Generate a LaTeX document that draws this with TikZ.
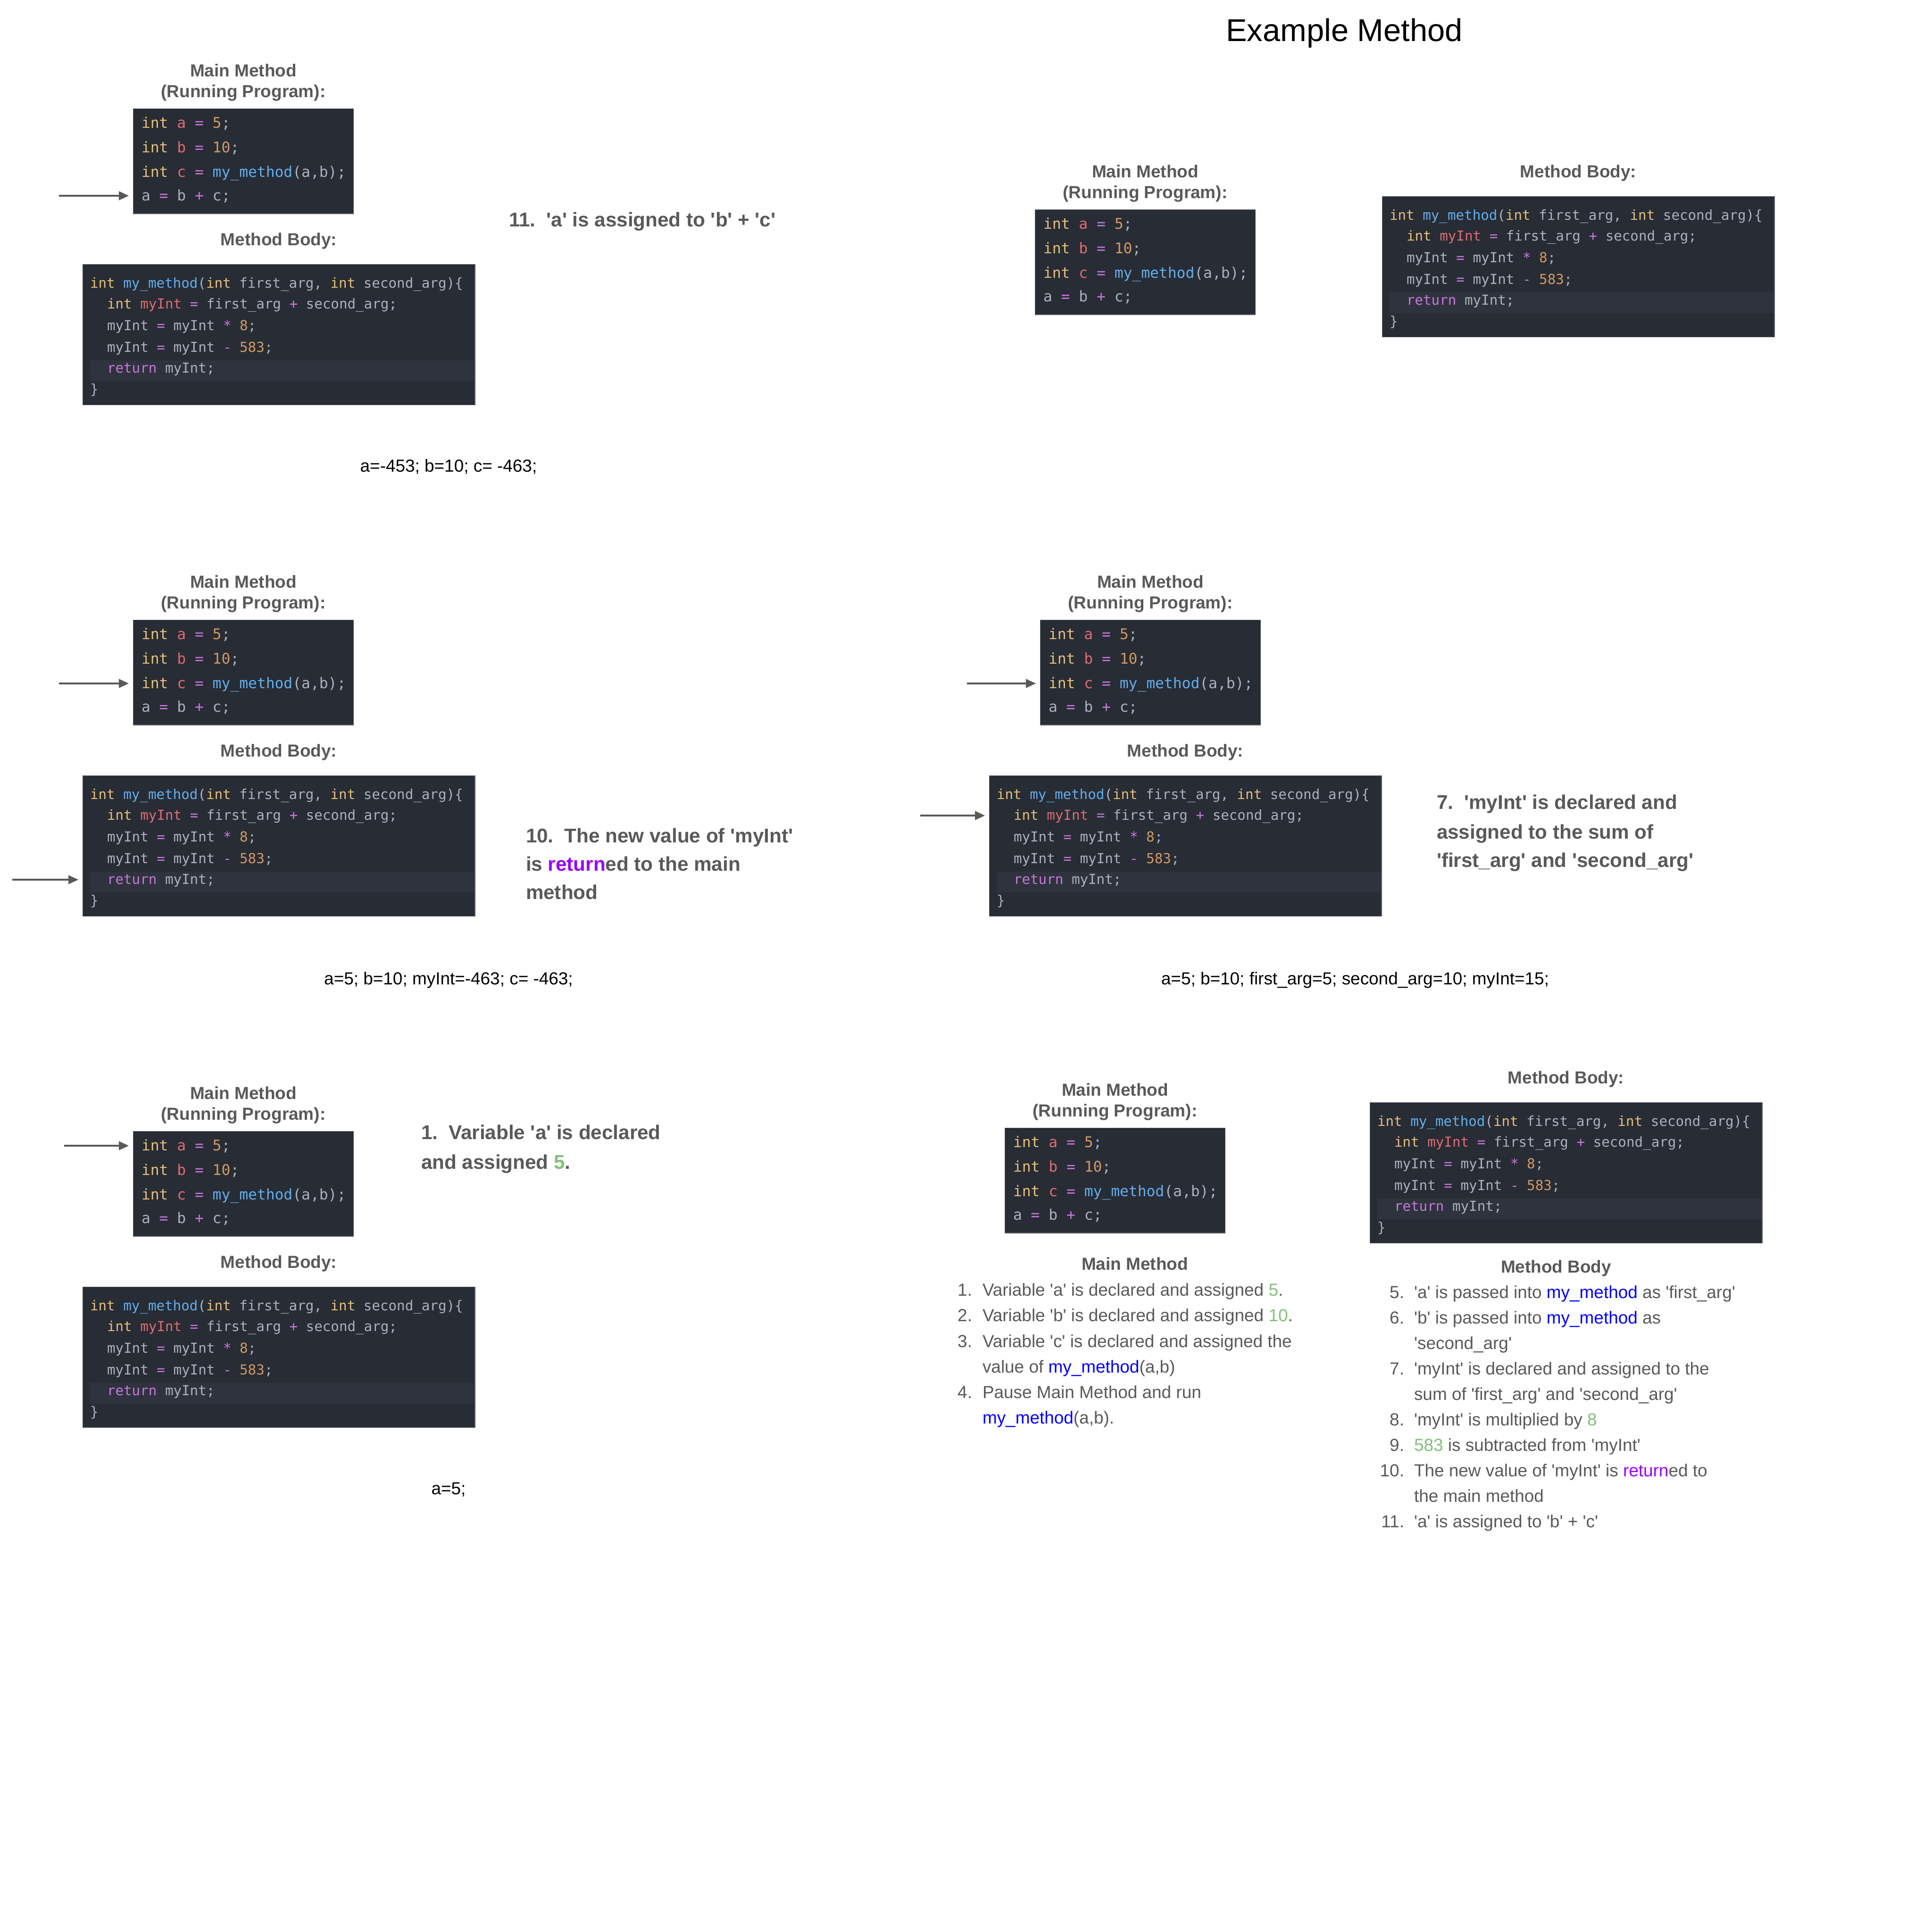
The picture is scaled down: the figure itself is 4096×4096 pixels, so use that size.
\documentclass[tikz,border=0pt]{standalone}
\usepackage{fontspec}
\usetikzlibrary{arrows.meta}
\newfontfamily\arialf{Liberation Sans}
\newfontfamily\codef{DejaVu Sans Mono}

% code colours (dark editor theme)
\definecolor{codebg}{HTML}{282C34}
\definecolor{codeedge}{HTML}{5A5E66}
\definecolor{hlbg}{HTML}{2F333D}
\definecolor{cplain}{HTML}{ABB2BF}
\definecolor{ckw}{HTML}{E5C07B}
\definecolor{cvar}{HTML}{E06C75}
\definecolor{cop}{HTML}{C678DD}
\definecolor{cnum}{HTML}{D19A66}
\definecolor{cfn}{HTML}{61AFEF}
% text colours
\definecolor{txtgray}{HTML}{595959}
\definecolor{lgreen}{HTML}{82C07A}
\definecolor{lblue}{HTML}{0000FF}
\definecolor{lpurple}{HTML}{9900FF}

\newcommand\cK[1]{\textcolor{ckw}{#1}}
\newcommand\cV[1]{\textcolor{cvar}{#1}}
\newcommand\cO[1]{\textcolor{cop}{#1}}
\newcommand\cN[1]{\textcolor{cnum}{#1}}
\newcommand\cF[1]{\textcolor{cfn}{#1}}
\newcommand\cR[1]{\textcolor{cop}{#1}}
\newcommand\gN[1]{\textcolor{lgreen}{#1}}
\newcommand\bF[1]{\textcolor{lblue}{#1}}
\newcommand\pR[1]{\textcolor{lpurple}{#1}}

\tikzset{
  txt/.style={inner sep=0pt, outer sep=0pt},
  hdr/.style={txt, text=txtgray, font=\arialf\bfseries\fontsize{10.5pt}{12.6pt}\selectfont},
  titlefont/.style={txt, text=black, font=\arialf\fontsize{19pt}{22pt}\selectfont},
  steplbl/.style={txt, anchor=base west, text=txtgray, font=\arialf\bfseries\fontsize{12pt}{17pt}\selectfont},
  vals/.style={txt, anchor=base, text=black, font=\arialf\fontsize{10.5pt}{12.6pt}\selectfont},
  listtxt/.style={txt, anchor=base west, text=txtgray, font=\arialf\fontsize{10.5pt}{12.6pt}\selectfont},
  listnum/.style={txt, anchor=base east, text=txtgray, font=\arialf\fontsize{10.5pt}{12.6pt}\selectfont},
  codebox/.style={fill=codebg, draw=codeedge, line width=0.4pt, inner sep=0pt, anchor=north west},
  mainln/.style={txt, anchor=base west, text=cplain, font=\codef\fontsize{8.9pt}{10pt}\selectfont},
  bodyln/.style={txt, anchor=base west, text=cplain, font=\codef\fontsize{8.3pt}{10pt}\selectfont},
  ptr/.style={draw=txtgray, line width=1.1pt, shorten >=2.5pt,
    -{Triangle[length=6pt,width=5.2pt]}},
}

% main method block: #1 prefix, (#2,#3) top-left corner of the code box
\newcommand\codemain[3]{%
  \node[hdr, anchor=base] (#1mh1) at ({#2+234},{#3-68}) {Main Method};
  \node[hdr, anchor=base] (#1mh2) at ({#2+234},{#3-24}) {(Running Program):};
  \node[codebox, minimum width=132.8pt, minimum height=63.2pt] (#1mbox) at (#2,#3) {};
  \node[mainln] (#1m1) at ({#2+18},{#3+41}) {\cK{int} \cV{a} \cO{=} \cN{5};};
  \node[mainln] (#1m2) at ({#2+18},{#3+93}) {\cK{int} \cV{b} \cO{=} \cN{10};};
  \node[mainln] (#1m3) at ({#2+18},{#3+145}) {\cK{int} \cV{c} \cO{=} \cF{my\_method}(a,b);};
  \node[mainln] (#1m4) at ({#2+18},{#3+195}) {a \cO{=} b \cO{+} c;};
}

% method body block: #1 prefix, (#2,#3) top-left corner of the code box
\newcommand\codebody[3]{%
  \node[hdr, anchor=base] (#1bh) at ({#2+416},{#3-40}) {Method Body:};
  \node[codebox, minimum width=236.4pt, minimum height=84.6pt] (#1bbox) at (#2,#3) {};
  \fill[hlbg] ({#2+16},{#3+204}) rectangle ({#2+831},{#3+248});
  \node[bodyln] (#1b1) at ({#2+16},{#3+50}) {\cK{int} \cF{my\_method}(\cK{int} first\_arg, \cK{int} second\_arg)\{};
  \node[bodyln] (#1b2) at ({#2+52},{#3+94}) {\cK{int} \cV{myInt} \cO{=} first\_arg \cO{+} second\_arg;};
  \node[bodyln] (#1b3) at ({#2+52},{#3+140}) {myInt \cO{=} myInt \cO{*} \cN{8};};
  \node[bodyln] (#1b4) at ({#2+52},{#3+186}) {myInt \cO{=} myInt \cO{-} \cN{583};};
  \node[bodyln] (#1b5) at ({#2+52},{#3+230}) {\cR{return} myInt;};
  \node[bodyln] (#1b6) at ({#2+16},{#3+275}) {\}};
}

\begin{document}
\begin{tikzpicture}[x=0.01cm, y=-0.01cm]
\fill[white] (0,0) rectangle (4096,4096);
\useasboundingbox (0,0) rectangle (4096,4096);

% title
\node[titlefont, anchor=base] (title) at (2850,87) {Example Method};

% ---- step 11 (top left)
\codemain{p1}{282}{230}
\codebody{p1}{175}{560}
\coordinate (p1a) at (125,415);
\draw[ptr] (p1a) -- (p1a -| p1mbox.west);
\node[steplbl] (p1s) at (1079,480) {11.\hspace{0.55em}'a' is assigned to 'b' + 'c'};
\node[vals] (p1v) at (951,1000) {a=-453; b=10; c= -463;};

% ---- overview (top right)
\codemain{p2}{2194}{444}
\codebody{p2}{2930}{416}

% ---- step 10 (middle left)
\codemain{p3}{282}{1314}
\codebody{p3}{175}{1644}
\coordinate (p3a) at (125,1449);
\draw[ptr] (p3a) -- (p3a -| p3mbox.west);
\coordinate (p3c) at (26,1865);
\draw[ptr] (p3c) -- (p3c -| p3bbox.west);
\node[steplbl] (p3s1) at (1115,1786) {10.\hspace{0.55em}The new value of 'myInt'};
\node[steplbl] (p3s2) at (1115,1846) {is \pR{return}ed to the main};
\node[steplbl] (p3s3) at (1115,1906) {method};
\node[vals] (p3v) at (951,2087) {a=5; b=10; myInt=-463; c= -463;};

% ---- step 7 (middle right)
\codemain{p4}{2205}{1314}
\codebody{p4}{2097}{1644}
\coordinate (p4a) at (2050,1449);
\draw[ptr] (p4a) -- (p4a -| p4mbox.west);
\coordinate (p4c) at (1951,1729);
\draw[ptr] (p4c) -- (p4c -| p4bbox.west);
\node[steplbl] (p4s1) at (3046,1715) {7.\hspace{0.55em}'myInt' is declared and};
\node[steplbl] (p4s2) at (3046,1778) {assigned to the sum of};
\node[steplbl] (p4s3) at (3046,1838) {'first\_arg' and 'second\_arg'};
\node[vals] (p4v) at (2873,2087) {a=5; b=10; first\_arg=5; second\_arg=10; myInt=15;};

% ---- step 1 (bottom left)
\codemain{p5}{282}{2398}
\codebody{p5}{175}{2728}
\coordinate (p5a) at (136,2429);
\draw[ptr] (p5a) -- (p5a -| p5mbox.west);
\node[steplbl] (p5s1) at (893,2415) {1.\hspace{0.55em}Variable 'a' is declared};
\node[steplbl] (p5s2) at (893,2478) {and assigned \gN{5}.};
\node[vals] (p5v) at (951,3168) {a=5;};

% ---- summary with step lists (bottom right)
\codemain{p6}{2130}{2391}
\codebody{p6}{2904}{2337}

\node[hdr, anchor=base] (l1h) at (2406,2692) {Main Method};
\node[listnum] (l1n1) at (2061,2747) {1.};
\node[listtxt] (l1t1) at (2083,2747) {Variable 'a' is declared and assigned \gN{5}.};
\node[listnum] (l1n2) at (2061,2801) {2.};
\node[listtxt] (l1t2) at (2083,2801) {Variable 'b' is declared and assigned \gN{10}.};
\node[listnum] (l1n3) at (2061,2856) {3.};
\node[listtxt] (l1t3) at (2083,2856) {Variable 'c' is declared and assigned the};
\node[listtxt] (l1t3b) at (2083,2910) {value of \bF{my\_method}(a,b)};
\node[listnum] (l1n4) at (2061,2964) {4.};
\node[listtxt] (l1t4) at (2083,2964) {Pause Main Method and run};
\node[listtxt] (l1t4b) at (2083,3018) {\bF{my\_method}(a,b).};

\node[hdr, anchor=base] (l2h) at (3299,2698) {Method Body};
\node[listnum] (l2n5) at (2977,2752) {5.};
\node[listtxt] (l2t5) at (2998,2752) {'a' is passed into \bF{my\_method} as 'first\_arg'};
\node[listnum] (l2n6) at (2977,2806) {6.};
\node[listtxt] (l2t6) at (2998,2806) {'b' is passed into \bF{my\_method} as};
\node[listtxt] (l2t6b) at (2998,2860) {'second\_arg'};
\node[listnum] (l2n7) at (2977,2914) {7.};
\node[listtxt] (l2t7) at (2998,2914) {'myInt' is declared and assigned to the};
\node[listtxt] (l2t7b) at (2998,2968) {sum of 'first\_arg' and 'second\_arg'};
\node[listnum] (l2n8) at (2977,3022) {8.};
\node[listtxt] (l2t8) at (2998,3022) {'myInt' is multiplied by \gN{8}};
\node[listnum] (l2n9) at (2977,3076) {9.};
\node[listtxt] (l2t9) at (2998,3076) {\gN{583} is subtracted from 'myInt'};
\node[listnum] (l2n10) at (2977,3130) {10.};
\node[listtxt] (l2t10) at (2998,3130) {The new value of 'myInt' is \pR{return}ed to};
\node[listtxt] (l2t10b) at (2998,3184) {the main method};
\node[listnum] (l2n11) at (2977,3238) {11.};
\node[listtxt] (l2t11) at (2998,3238) {'a' is assigned to 'b' + 'c'};
\end{tikzpicture}
\end{document}
